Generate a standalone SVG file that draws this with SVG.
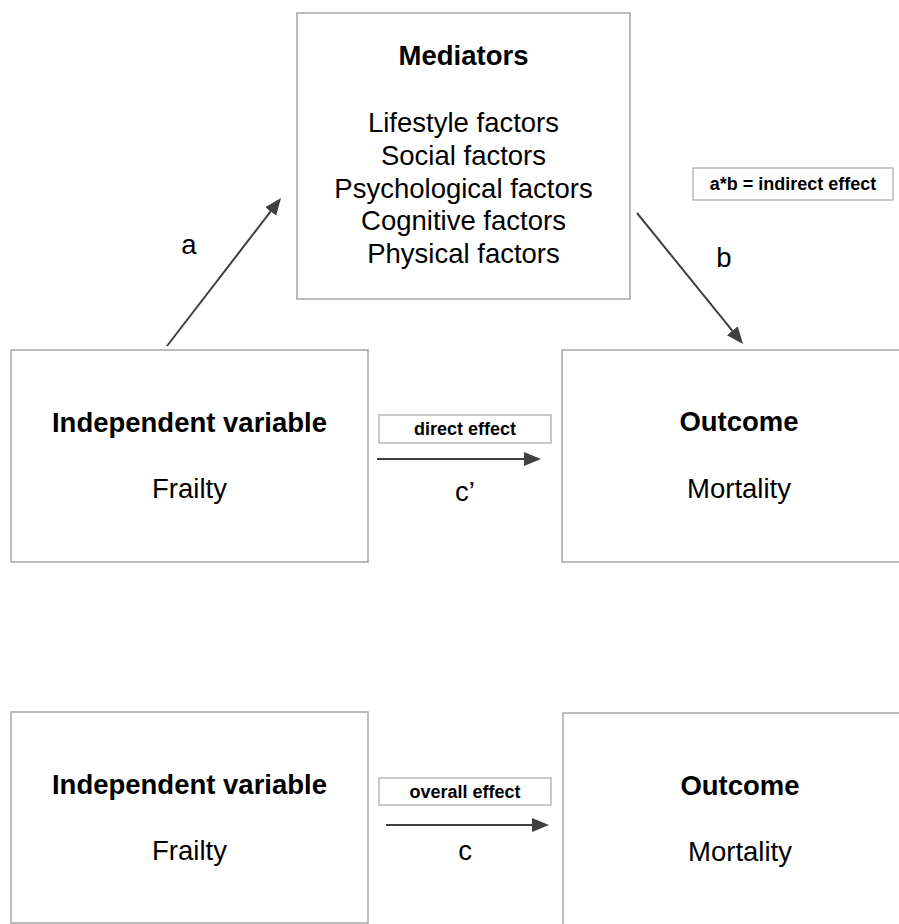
<svg xmlns="http://www.w3.org/2000/svg" width="899" height="924" viewBox="0 0 899 924">
<style>
.box{fill:#fff;stroke:#a6a6a6;stroke-width:1.5}
.lbl{fill:#fff;stroke:#a6a6a6;stroke-width:1.2}
.t{font-family:"Liberation Sans",Arial,sans-serif;fill:#000;text-anchor:middle}
.h{font-size:27.5px;font-weight:bold}
.n{font-size:27.5px}
.s{font-size:18px;font-weight:bold}
.e{stroke:#404040;stroke-width:2;fill:none;marker-end:url(#ah)}
</style>
<defs>
<marker id="ah" markerUnits="userSpaceOnUse" markerWidth="18" markerHeight="15" refX="6" refY="7" orient="auto">
<path d="M0,0 L17,7 L0,14 z" fill="#404040"/>
</marker>
</defs>
<rect x="0" y="0" width="899" height="924" fill="#fff"/>
<g id="connectors">
<line class="e" x1="167" y1="346" x2="274.3" y2="206.7"/>
<line class="e" x1="637" y1="213" x2="736.1" y2="335.4"/>
<line class="e" x1="377" y1="459" x2="530" y2="459"/>
<line class="e" x1="386" y1="825" x2="538" y2="825"/>
<text class="t n" x="189" y="254">a</text>
<text class="t n" x="724" y="267">b</text>
<text class="t n" x="465" y="501">c’</text>
<text class="t n" x="465" y="860">c</text>
</g>
<g id="mediators">
<rect class="box" x="297" y="13" width="333" height="286"/>
<text class="t h" x="463.5" y="65">Mediators</text>
<text class="t n" x="463.5" y="132">Lifestyle factors</text>
<text class="t n" x="463.5" y="165">Social factors</text>
<text class="t n" x="463.5" y="198">Psychological factors</text>
<text class="t n" x="463.5" y="230">Cognitive factors</text>
<text class="t n" x="463.5" y="263">Physical factors</text>
</g>
<g id="indirect-label">
<rect class="lbl" x="693" y="168" width="200" height="32"/>
<text class="t s" x="793" y="190">a*b = indirect effect</text>
</g>
<g id="iv-top">
<rect class="box" x="11" y="350" width="357" height="212"/>
<text class="t h" x="189.5" y="432">Independent variable</text>
<text class="t n" x="189.5" y="498">Frailty</text>
</g>
<g id="outcome-top">
<rect class="box" x="562" y="350" width="357" height="212"/>
<text class="t h" x="739" y="431">Outcome</text>
<text class="t n" x="739" y="498">Mortality</text>
</g>
<g id="direct-label">
<rect class="lbl" x="379" y="415" width="172" height="28"/>
<text class="t s" x="465" y="435">direct effect</text>
</g>
<g id="iv-bottom">
<rect class="box" x="11" y="712" width="357" height="211"/>
<text class="t h" x="189.5" y="794">Independent variable</text>
<text class="t n" x="189.5" y="860">Frailty</text>
</g>
<g id="outcome-bottom">
<rect class="box" x="563" y="713" width="357" height="212"/>
<text class="t h" x="740" y="795">Outcome</text>
<text class="t n" x="740" y="861">Mortality</text>
</g>
<g id="overall-label">
<rect class="lbl" x="379" y="778" width="172" height="27"/>
<text class="t s" x="465" y="798">overall effect</text>
</g>
</svg>
